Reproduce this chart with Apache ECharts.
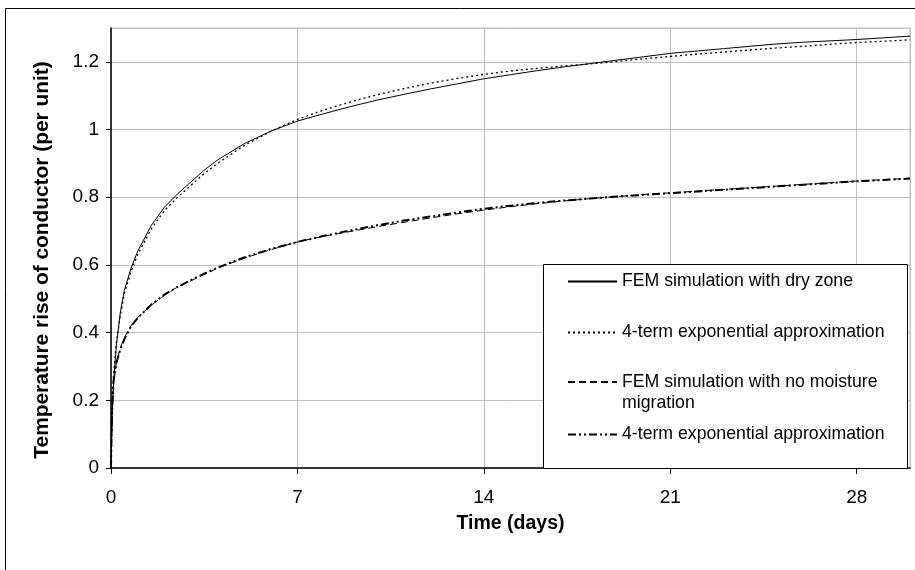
<!DOCTYPE html>
<html>
<head>
<meta charset="utf-8">
<script src="https://cdn.jsdelivr.net/npm/echarts@6/dist/echarts.min.js"></script>
<style>
  html, body { margin: 0; padding: 0; background: #fff; }
  #chart { width: 915px; height: 570px; }
</style>
</head>
<body>
<div id="chart"></div>
<script>
// Time axis (days) shared by all four curves
const timeDays = [0, 0.02, 0.05, 0.1, 0.2, 0.35, 0.5, 0.75, 1, 1.5, 2, 2.5, 3, 3.5, 4, 5, 6, 7,
  8, 9, 10, 11, 12, 13, 14, 15, 16, 17, 18, 19, 20, 21, 22, 23, 24, 25, 26, 27, 28, 29, 30];

// Conductor temperature rise (per unit)
const femDryZone = [0, 0.07, 0.17, 0.26, 0.36, 0.46, 0.525, 0.59, 0.64, 0.715, 0.77, 0.81, 0.845, 0.88, 0.91, 0.958, 0.995, 1.025,
  1.047, 1.068, 1.087, 1.104, 1.12, 1.135, 1.15, 1.162, 1.174, 1.185, 1.195, 1.205, 1.215, 1.225, 1.232, 1.239, 1.246, 1.253, 1.258, 1.262, 1.266, 1.271, 1.276];
const approxDryZone = [0, 0.09, 0.18, 0.28, 0.37, 0.45, 0.515, 0.58, 0.63, 0.705, 0.76, 0.8, 0.835, 0.87, 0.9, 0.953, 0.995, 1.03,
  1.058, 1.082, 1.103, 1.121, 1.137, 1.151, 1.163, 1.173, 1.181, 1.188, 1.194, 1.201, 1.209, 1.216, 1.223, 1.229, 1.235, 1.241, 1.246, 1.252, 1.257, 1.261, 1.265];
const femNoMigration = [0, 0.08, 0.17, 0.25, 0.31, 0.355, 0.385, 0.42, 0.445, 0.48, 0.51, 0.535, 0.553, 0.572, 0.59, 0.62, 0.645, 0.668,
  0.685, 0.699, 0.713, 0.726, 0.739, 0.751, 0.762, 0.772, 0.781, 0.789, 0.796, 0.802, 0.808, 0.813, 0.818, 0.823, 0.828, 0.833, 0.838, 0.843, 0.848, 0.852, 0.856];
const approxNoMigration = [0, 0.1, 0.19, 0.26, 0.31, 0.35, 0.38, 0.418, 0.443, 0.482, 0.512, 0.535, 0.555, 0.574, 0.592, 0.622, 0.647, 0.668,
  0.686, 0.702, 0.717, 0.731, 0.743, 0.755, 0.766, 0.775, 0.783, 0.79, 0.796, 0.802, 0.807, 0.812, 0.817, 0.822, 0.827, 0.832, 0.837, 0.842, 0.847, 0.851, 0.855];

// Legend entries and tick labels
const seriesIds = ['femDry', 'approxDry', 'femWet', 'approxWet'];
const legendLabels = [
  'FEM simulation with dry zone',
  '4-term exponential approximation',
  // leading blank line keeps the sample line beside the first text line
  '\nFEM simulation with no moisture\nmigration',
  '4-term exponential approximation'
];
const xTickLabels = [0, 7, 14, 21, 28];
const yTickLabels = [0, 0.2, 0.4, 0.6, 0.8, 1, 1.2];
const xTitle = 'Time (days)';
const yTitle = 'Temperature rise of conductor (per unit)';

const FONT = '"Liberation Sans", Arial, Helvetica, sans-serif';

function pairs(values) {
  return timeDays.map((t, i) => [t, values[i]]);
}

const lineStyles = [
  { width: 1, type: 'solid' },
  { width: 1.3, type: [2, 3] },
  { width: 1, type: [7, 4] },
  { width: 2, type: [8, 3, 2, 3, 2, 3] }
];
const seriesValues = [femDryZone, approxDryZone, femNoMigration, approxNoMigration];

const series = seriesIds.map((id, i) => ({
  name: id,
  type: 'line',
  data: pairs(seriesValues[i]),
  symbol: 'none',
  z: 5 - i,
  lineStyle: Object.assign({ color: '#000' }, lineStyles[i]),
  itemStyle: { color: '#000' },
  emphasis: { disabled: true },
  animation: false
}));

const legendTops = [271, 322, 350.5, 424];
const legends = seriesIds.map((id, i) => ({
  data: [id],
  orient: 'vertical',
  left: 567,
  top: legendTops[i],
  padding: 0,
  itemWidth: 49,
  itemHeight: 14,
  selectedMode: false,
  z: 10,
  itemStyle: { color: 'rgba(0,0,0,0)', borderWidth: 0, opacity: 0 },
  formatter: () => legendLabels[i],
  textStyle: { fontFamily: FONT, fontSize: 17.7, color: '#000', lineHeight: 21 }
}));

const option = {
  backgroundColor: '#fff',
  animation: false,
  grid: {
    left: 111, top: 28, right: 5, bottom: 102,
    show: true, borderColor: '#c0c0c0', borderWidth: 1, backgroundColor: 'transparent'
  },
  xAxis: {
    type: 'value',
    min: xTickLabels[0],
    max: 30,
    interval: xTickLabels[1] - xTickLabels[0],
    name: xTitle,
    nameLocation: 'middle',
    nameGap: 46,
    nameTextStyle: { fontFamily: FONT, fontSize: 19.5, fontWeight: 'bold', color: '#000' },
    axisLine: { show: true, onZero: false, lineStyle: { color: '#000', width: 1.5 } },
    axisTick: { show: true, length: 6, inside: false, lineStyle: { color: '#000' } },
    axisLabel: { fontFamily: FONT, fontSize: 19, color: '#000', margin: 20, showMaxLabel: false },
    splitLine: { show: true, lineStyle: { color: '#c0c0c0', width: 1 } }
  },
  yAxis: {
    type: 'value',
    min: yTickLabels[0],
    max: 1.3,
    interval: yTickLabels[1] - yTickLabels[0],
    axisLine: { show: true, onZero: false, lineStyle: { color: '#000', width: 1.5 } },
    axisTick: { show: true, length: 5, inside: false, lineStyle: { color: '#000' } },
    axisLabel: {
      fontFamily: FONT, fontSize: 19, color: '#000', margin: 12, showMaxLabel: false,
      formatter: v => String(+v.toFixed(1))
    },
    splitLine: { show: true, lineStyle: { color: '#c0c0c0', width: 1 } }
  },
  legend: legends,
  graphic: [
    // outer chart frame
    { type: 'rect', z: 0, silent: true,
      shape: { x: 5.5, y: 8.5, width: 2000, height: 2000 },
      style: { fill: 'none', stroke: '#000', lineWidth: 1 } },
    // legend box
    { type: 'rect', z: 8, silent: true,
      shape: { x: 543.5, y: 264.5, width: 364, height: 204 },
      style: { fill: '#fff', stroke: '#000', lineWidth: 1 } },
    // vertical axis title, slightly elongated along its reading direction
    { type: 'text', z: 10, silent: true,
      x: 43, y: 260, rotation: Math.PI / 2, scaleX: 1.07, scaleY: 1,
      style: { text: yTitle, fontFamily: FONT, fontSize: 19.5, fontWeight: 'bold', fill: '#000',
        align: 'center', verticalAlign: 'middle' } }
  ],
  series: series
};

const chart = echarts.init(document.getElementById('chart'), null, { renderer: 'canvas' });
chart.setOption(option);
</script>
</body>
</html>
